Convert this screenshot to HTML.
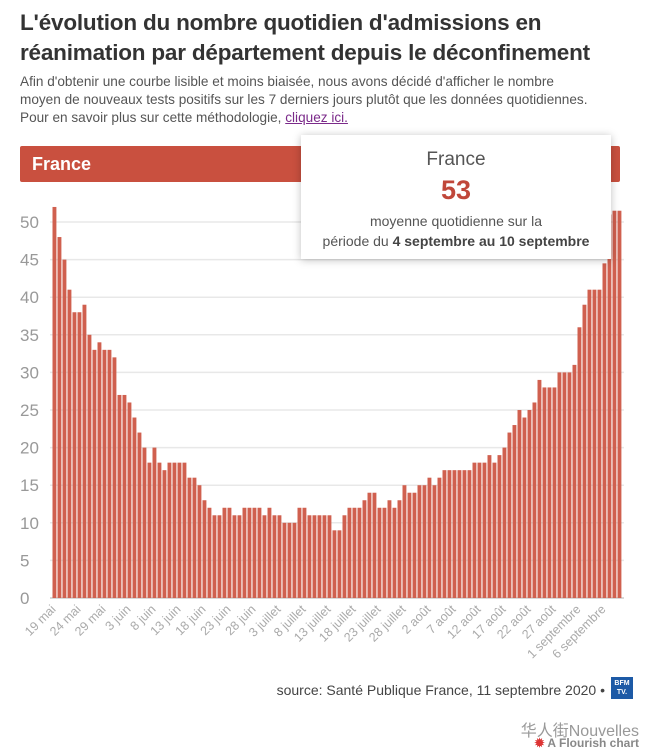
<!DOCTYPE html>
<html><head><meta charset="utf-8"><style>
body{margin:0;background:#fff;width:657px;height:756px;overflow:hidden;font-family:"Liberation Sans",sans-serif;position:relative}
.abs{position:absolute}
#title{left:20px;top:8px;width:630px;font-size:22.5px;font-weight:bold;color:#333;line-height:30px;letter-spacing:-0.2px}
#sub{left:20px;top:73px;width:640px;font-size:13.6px;color:#555;line-height:18px;white-space:nowrap}
#sub a{color:#7b2a8a;text-decoration:underline}
#hdr{left:20px;top:146px;width:600px;height:36px;background:#c9503f;border-radius:2px;color:#fff;font-weight:bold;font-size:18px;line-height:36px;padding-left:12px;box-sizing:border-box}
#tip{left:301px;top:135px;width:310px;height:124px;background:#fff;box-shadow:0 1px 8px rgba(0,0,0,0.25);text-align:center;color:#555}
#src{right:52px;top:682px;font-size:14px;color:#444}
#logo{left:611px;top:677px;width:22px;height:22px;background:#1d5aa6;color:#fff;font-size:7px;font-weight:bold;text-align:center;line-height:9px;padding-top:2px;box-sizing:border-box}
</style></head><body>
<div id="title" class="abs">L'évolution du nombre quotidien d'admissions en réanimation par département depuis le déconfinement</div>
<div id="sub" class="abs">Afin d'obtenir une courbe lisible et moins biaisée, nous avons décidé d'afficher le nombre<br>moyen de nouveaux tests positifs sur les 7 derniers jours plutôt que les données quotidiennes.<br>Pour en savoir plus sur cette méthodologie, <a>cliquez ici.</a></div>
<div id="hdr" class="abs">France</div>
<svg class="abs" style="left:0;top:0" width="657" height="660" id="chart"></svg>
<div id="tip" class="abs">
<div style="font-size:19px;margin-top:14px;color:#555">France</div>
<div style="font-size:27px;font-weight:bold;color:#c0473a;margin-top:4px">53</div>
<div style="font-size:14px;margin-top:5px;line-height:20px">moyenne quotidienne sur la<br>période du <b style="color:#444">4 septembre au 10 septembre</b></div>
</div>
<div id="src" class="abs">source: Santé Publique France, 11 septembre 2020 •</div>
<div id="logo" class="abs">BFM<br>TV.</div>
<div class="abs" style="right:18px;top:717px;font-size:16px;color:#999;font-family:'Liberation Sans','Noto Sans CJK SC',sans-serif">华人街Nouvelles</div>
<div class="abs" style="right:18px;top:736px;font-size:12px;color:#888;font-weight:bold"><span style="color:#d33">✹</span> A Flourish chart</div>
<script>
const values=[52,48,45,41,38,38,39,35,33,34,33,33,32,27,27,26,24,22,20,18,20,18,17,18,18,18,18,16,16,15,13,12,11,11,12,12,11,11,
12,12,12,12,11,12,11,11,10,10,10,12,12,11,11,11,11,11,9,9,11,12,12,12,13,14,14,12,12,13,12,13,15,14,14,
15,15,16,15,16,17,17,17,17,17,17,18,18,18,19,18,19,20,22,23,25,24,25,26,29,28,28,28,30,30,30,31,36,39,41,41,41,44.5,51,51.5,51.5];
const yTicks=[0,5,10,15,20,25,30,35,40,45,50];
const xLabels=["19 mai","24 mai","29 mai","3 juin","8 juin","13 juin","18 juin","23 juin","28 juin","3 juillet","8 juillet","13 juillet","18 juillet","23 juillet","28 juillet","2 août","7 août","12 août","17 août","22 août","27 août","1 septembre","6 septembre"];
const NS="http://www.w3.org/2000/svg",svg=document.getElementById('chart');
const y0=598,yTop=222,x0=52.5,pitch=5,bw=3.9;
function y(v){return y0-(v/50)*(y0-yTop);}
function x(i){return x0+i*pitch;}
for(const t of yTicks){
 const l=document.createElementNS(NS,'line');
 l.setAttribute('x1',50);l.setAttribute('x2',624);l.setAttribute('y1',y(t));l.setAttribute('y2',y(t));
 l.setAttribute('stroke',t===0?'#ccc':'#e8e8e8');l.setAttribute('stroke-width',1.5);
 
 
 svg.appendChild(l);
 const tx=document.createElementNS(NS,'text');
 tx.setAttribute('x',20);tx.setAttribute('y',y(t)+6);tx.setAttribute('font-size',17);tx.setAttribute('fill','#999');
 tx.textContent=t;
 
 
 svg.appendChild(tx);
}
values.forEach((v,i)=>{
 const r=document.createElementNS(NS,'rect');
 r.setAttribute('x',x(i));r.setAttribute('width',bw);r.setAttribute('y',y(v));r.setAttribute('height',y0-y(v));
 r.setAttribute('fill','#d0604f');
 
 
 svg.appendChild(r);
});
xLabels.forEach((s,k)=>{
 const i=k*5,cx=x(i)+bw/2;
 const tx=document.createElementNS(NS,'text');
 tx.setAttribute('x',cx+2);tx.setAttribute('y',y0+12);tx.setAttribute('font-size',12.5);tx.setAttribute('fill','#aaa');
 tx.setAttribute('text-anchor','end');tx.setAttribute('transform',`rotate(-45 ${cx+2} ${y0+12})`);
 tx.textContent=s;
 
 
 svg.appendChild(tx);
});
</script>
</body></html>
